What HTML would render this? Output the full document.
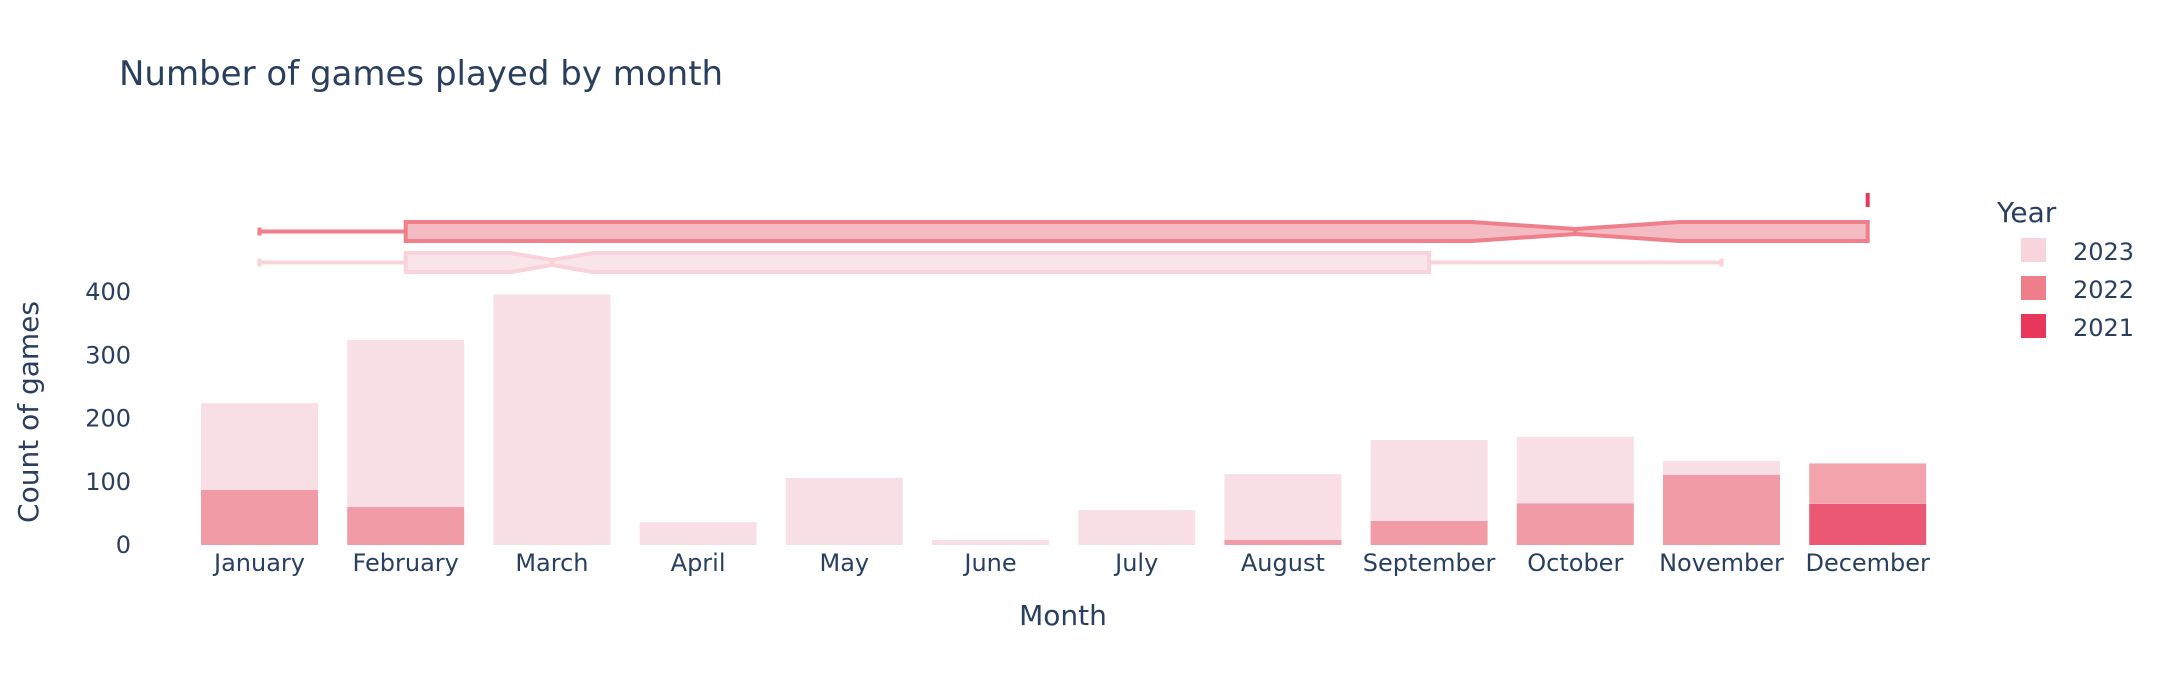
<!DOCTYPE html>
<html><head><meta charset="utf-8"><style>
html,body{margin:0;padding:0;background:#fff}
svg{display:block}
text{font-family:"DejaVu Sans","Liberation Sans",sans-serif;fill:#2a3f5f}
</style></head><body>
<svg id="chart" width="2160" height="690" viewBox="0 0 2160 690" xmlns="http://www.w3.org/2000/svg">
<text x="119" y="85" font-size="34">Number of games played by month</text>
<text transform="translate(38,412) rotate(-90)" text-anchor="middle" font-size="28">Count of games</text>
<text x="1063" y="625" text-anchor="middle" font-size="28">Month</text>
<g id="bars"></g>
<g id="boxes"></g>
<g id="yticks"></g>
<g id="xticks"></g>
<g>
<text x="1997" y="222" font-size="28">Year</text>
<g><rect x="2021" y="238" width="25" height="24" fill="#f8d5dc"/><text x="2073" y="260" font-size="24">2023</text></g>
<g><rect x="2021" y="276" width="25" height="24" fill="#ee7e89"/><text x="2073" y="298" font-size="24">2022</text></g>
<g><rect x="2021" y="314" width="25" height="24" fill="#e8375a"/><text x="2073" y="336" font-size="24">2021</text></g>
</g>
</svg>
<script>
const months = ["January","February","March","April","May","June","July","August","September","October","November","December"];
const y2021 = [0,0,0,0,0,0,0,0,0,0,0,65];
const y2022 = [87,60,0,0,0,0,0,8,38,66,111,64];
const y2023 = [137,264,396,36,106,8,55,104,128,105,22,0];
const yTicks = [0,100,200,300,400];
// box stats as month indices: [lowerFence, q1, median, q3, upperFence]
const box2022 = [0,1,9,11,11];
const box2023 = [0,1,2,8,10];
const box2021 = [11,11,11,11,11];
const notch2022 = 0.71;
const notch2023 = 0.28;

const NS="http://www.w3.org/2000/svg";
const x0=259.5, step=146.2, bw=117, base=545, k=0.6325;
const xc=i=>x0+i*step;
const ys=v=>base-v*k;
function mk(tag,attrs,parent){const e=document.createElementNS(NS,tag);for(const a in attrs)e.setAttribute(a,attrs[a]);parent.appendChild(e);return e;}
const gb=document.getElementById('bars');
const series=[[y2021,"#eb5873","2021"],[y2022,"#f09ba5","2022"],[y2023,"#f8dfe5","2023"]];
months.forEach((m,i)=>{
  let acc=0;
  series.forEach(([arr,col,yr])=>{
    const v=arr[i]; if(v<=0)return;
    let c=col; if(yr==="2022"&&y2021[i]>0)c="#f2a3ac";
    const r=mk('rect',{x:xc(i)-bw/2,y:ys(acc+v),width:bw,height:v*k,fill:c},gb);
    
    
    acc+=v;
  });
});
const gy=document.getElementById('yticks');
yTicks.forEach(t=>{const e=mk('text',{x:131,y:ys(t)+8,'text-anchor':'end','font-size':24},gy);e.textContent=t;

});
const gx=document.getElementById('xticks');
months.forEach((m,i)=>{const e=mk('text',{x:xc(i),y:571,'text-anchor':'middle','font-size':24},gx);e.textContent=m;

});
const gbx=document.getElementById('boxes');
function box(st,notch,cy,stroke,fill,name){
  const g=mk('g',{},gbx);
  
  
  const h=9.5, p=2.5;
  const [lf,q1,md,q3,uf]=st.map(xc);
  const nw=notch*step;
  if(lf<q1)mk('line',{x1:lf,x2:q1,y1:cy,y2:cy,stroke:stroke,'stroke-width':4},g);
  if(uf>q3)mk('line',{x1:q3,x2:uf,y1:cy,y2:cy,stroke:stroke,'stroke-width':4},g);
  if(lf<q1)mk('line',{x1:lf,x2:lf,y1:cy-4,y2:cy+4,stroke:stroke,'stroke-width':4},g);
  if(uf>q3)mk('line',{x1:uf,x2:uf,y1:cy-4,y2:cy+4,stroke:stroke,'stroke-width':4},g);
  const d=`M${q1},${cy-h} L${md-nw},${cy-h} L${md},${cy-p} L${md+nw},${cy-h} L${q3},${cy-h} L${q3},${cy+h} L${md+nw},${cy+h} L${md},${cy+p} L${md-nw},${cy+h} L${q1},${cy+h} Z`;
  mk('path',{d:d,fill:fill,stroke:stroke,'stroke-width':4,'stroke-linejoin':'miter'},g);
  mk('line',{x1:md,x2:md,y1:cy-p,y2:cy+p,stroke:stroke,'stroke-width':4},g);
}
box(box2022,notch2022,231.5,"#ef7f8a","#f5bbc2","box-2022");
box(box2023,notch2023,262.5,"#f8d3da","#fae6ea","box-2023");
const b21=mk('line',{x1:xc(box2021[2]),x2:xc(box2021[2]),y1:193,y2:207,stroke:"#e8375a",'stroke-width':4},gbx);


</script>
</body></html>
